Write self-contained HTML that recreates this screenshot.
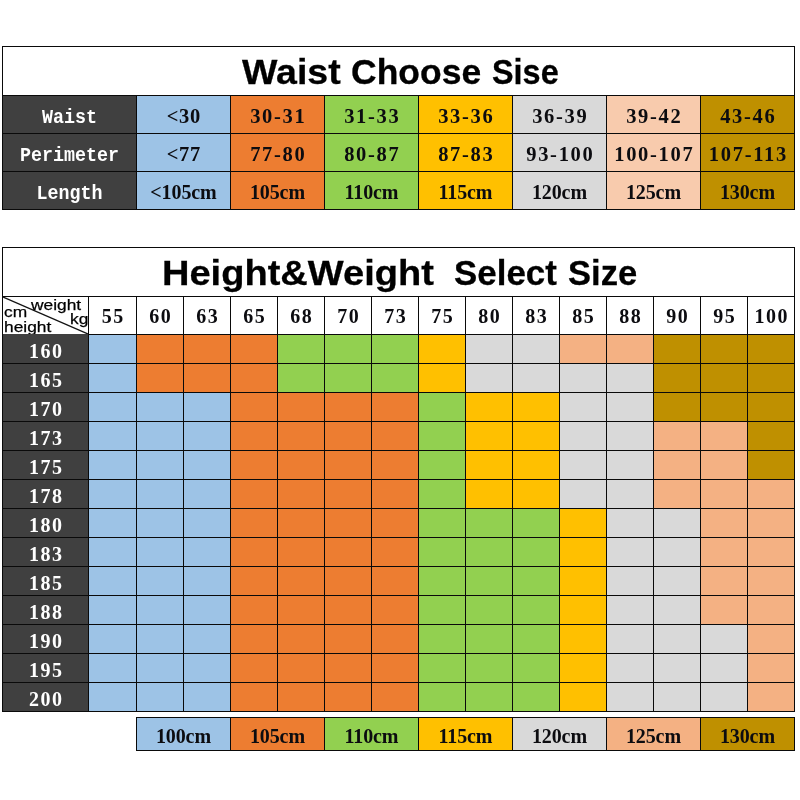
<!DOCTYPE html>
<html><head><meta charset="utf-8"><title>Size chart</title>
<style>
html,body{margin:0;padding:0;background:#fff}
body{width:800px;height:800px;position:relative;overflow:hidden;font-family:"Liberation Serif",serif}
.r{position:absolute}
.t{position:absolute;text-align:center;white-space:nowrap;font-family:"Liberation Serif",serif;font-weight:bold;color:#0c0c10;font-size:20.5px;letter-spacing:0.75px;text-indent:0.75px}
.t2{font-size:20px;letter-spacing:1.4px;text-indent:1.4px}
.w{color:#fff}
.lab{font-family:"Liberation Mono",monospace;font-size:18.33px;letter-spacing:0;text-indent:0;transform:scaleY(1.08)}
.hy{letter-spacing:1.7px;text-indent:1.7px}
.u{font-size:20px;letter-spacing:-0.1px;text-indent:-0.1px}
.title{position:absolute;left:0;top:0;font-family:"Liberation Sans",sans-serif;font-weight:bold;font-size:36.5px;color:#000;white-space:nowrap;-webkit-text-stroke:0.3px #000}
.wd{position:absolute;display:block;line-height:60px;height:60px;transform-origin:0 0}
.a{position:absolute;font-family:"Liberation Sans",sans-serif;font-size:15.5px;line-height:16px;color:#000;-webkit-text-stroke:0.25px #000;transform:scaleX(1.12);transform-origin:0 0;white-space:nowrap}
</style></head><body>
<div class="r" style="left:2px;top:46px;width:793px;height:50px;background:#fff"></div>
<div class="r" style="left:2px;top:95px;width:135px;height:115px;background:#404040"></div>
<div class="r" style="left:136px;top:95px;width:94px;height:115px;background:#9dc3e6"></div>
<div class="r" style="left:230px;top:95px;width:94px;height:115px;background:#ed7d31"></div>
<div class="r" style="left:324px;top:95px;width:94px;height:115px;background:#92d050"></div>
<div class="r" style="left:418px;top:95px;width:94px;height:115px;background:#ffc000"></div>
<div class="r" style="left:512px;top:95px;width:94px;height:115px;background:#d9d9d9"></div>
<div class="r" style="left:606px;top:95px;width:94px;height:115px;background:#f8cbad"></div>
<div class="r" style="left:700px;top:95px;width:94px;height:115px;background:#bf9000"></div>
<div class="r" style="left:2px;top:46px;width:793px;height:1px;background:#0a0a0a"></div>
<div class="r" style="left:2px;top:95px;width:793px;height:1px;background:#0a0a0a"></div>
<div class="r" style="left:2px;top:133px;width:793px;height:1px;background:#0a0a0a"></div>
<div class="r" style="left:2px;top:171px;width:793px;height:1px;background:#0a0a0a"></div>
<div class="r" style="left:2px;top:209px;width:793px;height:1px;background:#0a0a0a"></div>
<div class="r" style="left:2px;top:46px;width:1px;height:164px;background:#0a0a0a"></div>
<div class="r" style="left:794px;top:46px;width:1px;height:164px;background:#0a0a0a"></div>
<div class="r" style="left:136px;top:95px;width:1px;height:115px;background:#0a0a0a"></div>
<div class="r" style="left:230px;top:95px;width:1px;height:115px;background:#0a0a0a"></div>
<div class="r" style="left:324px;top:95px;width:1px;height:115px;background:#0a0a0a"></div>
<div class="r" style="left:418px;top:95px;width:1px;height:115px;background:#0a0a0a"></div>
<div class="r" style="left:512px;top:95px;width:1px;height:115px;background:#0a0a0a"></div>
<div class="r" style="left:606px;top:95px;width:1px;height:115px;background:#0a0a0a"></div>
<div class="r" style="left:700px;top:95px;width:1px;height:115px;background:#0a0a0a"></div>
<div class="t w lab" style="left:3px;top:99.8px;width:133px;height:37px;line-height:37px">Waist</div>
<div class="t t1" style="left:137px;top:97.7px;width:93px;height:37px;line-height:37px">&lt;30</div>
<div class="t t1 hy" style="left:231px;top:97.7px;width:93px;height:37px;line-height:37px">30-31</div>
<div class="t t1 hy" style="left:325px;top:97.7px;width:93px;height:37px;line-height:37px">31-33</div>
<div class="t t1 hy" style="left:419px;top:97.7px;width:93px;height:37px;line-height:37px">33-36</div>
<div class="t t1 hy" style="left:513px;top:97.7px;width:93px;height:37px;line-height:37px">36-39</div>
<div class="t t1 hy" style="left:607px;top:97.7px;width:93px;height:37px;line-height:37px">39-42</div>
<div class="t t1 hy" style="left:701px;top:97.7px;width:93px;height:37px;line-height:37px">43-46</div>
<div class="t w lab" style="left:3px;top:137.8px;width:133px;height:37px;line-height:37px">Perimeter</div>
<div class="t t1" style="left:137px;top:135.7px;width:93px;height:37px;line-height:37px">&lt;77</div>
<div class="t t1 hy" style="left:231px;top:135.7px;width:93px;height:37px;line-height:37px">77-80</div>
<div class="t t1 hy" style="left:325px;top:135.7px;width:93px;height:37px;line-height:37px">80-87</div>
<div class="t t1 hy" style="left:419px;top:135.7px;width:93px;height:37px;line-height:37px">87-83</div>
<div class="t t1 hy" style="left:513px;top:135.7px;width:93px;height:37px;line-height:37px">93-100</div>
<div class="t t1 hy" style="left:607px;top:135.7px;width:93px;height:37px;line-height:37px">100-107</div>
<div class="t t1 hy" style="left:701px;top:135.7px;width:93px;height:37px;line-height:37px">107-113</div>
<div class="t w lab" style="left:3px;top:175.8px;width:133px;height:37px;line-height:37px">Length</div>
<div class="t t1 u" style="left:137px;top:173.7px;width:93px;height:37px;line-height:37px">&lt;105cm</div>
<div class="t t1 u" style="left:231px;top:173.7px;width:93px;height:37px;line-height:37px">105cm</div>
<div class="t t1 u" style="left:325px;top:173.7px;width:93px;height:37px;line-height:37px">110cm</div>
<div class="t t1 u" style="left:419px;top:173.7px;width:93px;height:37px;line-height:37px">115cm</div>
<div class="t t1 u" style="left:513px;top:173.7px;width:93px;height:37px;line-height:37px">120cm</div>
<div class="t t1 u" style="left:607px;top:173.7px;width:93px;height:37px;line-height:37px">125cm</div>
<div class="t t1 u" style="left:701px;top:173.7px;width:93px;height:37px;line-height:37px">130cm</div>
<div class="title"><span class="wd" style="left:241.70px;top:43.05px;transform:scale(1.028,0.970)">Waist</span> <span class="wd" style="left:351.25px;top:43.05px;transform:scale(0.973,0.970)">Choose</span> <span class="wd" style="left:491.51px;top:43.05px;transform:scale(0.888,0.970)">Sise</span></div>
<div class="r" style="left:2px;top:247px;width:793px;height:88px;background:#fff"></div>
<div class="r" style="left:2px;top:334px;width:87px;height:378px;background:#404040"></div>
<div class="r" style="left:88px;top:334px;width:48px;height:29px;background:#9dc3e6"></div>
<div class="r" style="left:136px;top:334px;width:141px;height:29px;background:#ed7d31"></div>
<div class="r" style="left:277px;top:334px;width:141px;height:29px;background:#92d050"></div>
<div class="r" style="left:418px;top:334px;width:47px;height:29px;background:#ffc000"></div>
<div class="r" style="left:465px;top:334px;width:94px;height:29px;background:#d9d9d9"></div>
<div class="r" style="left:559px;top:334px;width:94px;height:29px;background:#f4b183"></div>
<div class="r" style="left:653px;top:334px;width:141px;height:29px;background:#bf9000"></div>
<div class="r" style="left:88px;top:363px;width:48px;height:29px;background:#9dc3e6"></div>
<div class="r" style="left:136px;top:363px;width:141px;height:29px;background:#ed7d31"></div>
<div class="r" style="left:277px;top:363px;width:141px;height:29px;background:#92d050"></div>
<div class="r" style="left:418px;top:363px;width:47px;height:29px;background:#ffc000"></div>
<div class="r" style="left:465px;top:363px;width:188px;height:29px;background:#d9d9d9"></div>
<div class="r" style="left:653px;top:363px;width:141px;height:29px;background:#bf9000"></div>
<div class="r" style="left:88px;top:392px;width:142px;height:29px;background:#9dc3e6"></div>
<div class="r" style="left:230px;top:392px;width:188px;height:29px;background:#ed7d31"></div>
<div class="r" style="left:418px;top:392px;width:47px;height:29px;background:#92d050"></div>
<div class="r" style="left:465px;top:392px;width:94px;height:29px;background:#ffc000"></div>
<div class="r" style="left:559px;top:392px;width:94px;height:29px;background:#d9d9d9"></div>
<div class="r" style="left:653px;top:392px;width:141px;height:29px;background:#bf9000"></div>
<div class="r" style="left:88px;top:421px;width:142px;height:29px;background:#9dc3e6"></div>
<div class="r" style="left:230px;top:421px;width:188px;height:29px;background:#ed7d31"></div>
<div class="r" style="left:418px;top:421px;width:47px;height:29px;background:#92d050"></div>
<div class="r" style="left:465px;top:421px;width:94px;height:29px;background:#ffc000"></div>
<div class="r" style="left:559px;top:421px;width:94px;height:29px;background:#d9d9d9"></div>
<div class="r" style="left:653px;top:421px;width:94px;height:29px;background:#f4b183"></div>
<div class="r" style="left:747px;top:421px;width:47px;height:29px;background:#bf9000"></div>
<div class="r" style="left:88px;top:450px;width:142px;height:29px;background:#9dc3e6"></div>
<div class="r" style="left:230px;top:450px;width:188px;height:29px;background:#ed7d31"></div>
<div class="r" style="left:418px;top:450px;width:47px;height:29px;background:#92d050"></div>
<div class="r" style="left:465px;top:450px;width:94px;height:29px;background:#ffc000"></div>
<div class="r" style="left:559px;top:450px;width:94px;height:29px;background:#d9d9d9"></div>
<div class="r" style="left:653px;top:450px;width:94px;height:29px;background:#f4b183"></div>
<div class="r" style="left:747px;top:450px;width:47px;height:29px;background:#bf9000"></div>
<div class="r" style="left:88px;top:479px;width:142px;height:29px;background:#9dc3e6"></div>
<div class="r" style="left:230px;top:479px;width:188px;height:29px;background:#ed7d31"></div>
<div class="r" style="left:418px;top:479px;width:47px;height:29px;background:#92d050"></div>
<div class="r" style="left:465px;top:479px;width:94px;height:29px;background:#ffc000"></div>
<div class="r" style="left:559px;top:479px;width:94px;height:29px;background:#d9d9d9"></div>
<div class="r" style="left:653px;top:479px;width:141px;height:29px;background:#f4b183"></div>
<div class="r" style="left:88px;top:508px;width:142px;height:29px;background:#9dc3e6"></div>
<div class="r" style="left:230px;top:508px;width:188px;height:29px;background:#ed7d31"></div>
<div class="r" style="left:418px;top:508px;width:141px;height:29px;background:#92d050"></div>
<div class="r" style="left:559px;top:508px;width:47px;height:29px;background:#ffc000"></div>
<div class="r" style="left:606px;top:508px;width:94px;height:29px;background:#d9d9d9"></div>
<div class="r" style="left:700px;top:508px;width:94px;height:29px;background:#f4b183"></div>
<div class="r" style="left:88px;top:537px;width:142px;height:29px;background:#9dc3e6"></div>
<div class="r" style="left:230px;top:537px;width:188px;height:29px;background:#ed7d31"></div>
<div class="r" style="left:418px;top:537px;width:141px;height:29px;background:#92d050"></div>
<div class="r" style="left:559px;top:537px;width:47px;height:29px;background:#ffc000"></div>
<div class="r" style="left:606px;top:537px;width:94px;height:29px;background:#d9d9d9"></div>
<div class="r" style="left:700px;top:537px;width:94px;height:29px;background:#f4b183"></div>
<div class="r" style="left:88px;top:566px;width:142px;height:29px;background:#9dc3e6"></div>
<div class="r" style="left:230px;top:566px;width:188px;height:29px;background:#ed7d31"></div>
<div class="r" style="left:418px;top:566px;width:141px;height:29px;background:#92d050"></div>
<div class="r" style="left:559px;top:566px;width:47px;height:29px;background:#ffc000"></div>
<div class="r" style="left:606px;top:566px;width:94px;height:29px;background:#d9d9d9"></div>
<div class="r" style="left:700px;top:566px;width:94px;height:29px;background:#f4b183"></div>
<div class="r" style="left:88px;top:595px;width:142px;height:29px;background:#9dc3e6"></div>
<div class="r" style="left:230px;top:595px;width:188px;height:29px;background:#ed7d31"></div>
<div class="r" style="left:418px;top:595px;width:141px;height:29px;background:#92d050"></div>
<div class="r" style="left:559px;top:595px;width:47px;height:29px;background:#ffc000"></div>
<div class="r" style="left:606px;top:595px;width:94px;height:29px;background:#d9d9d9"></div>
<div class="r" style="left:700px;top:595px;width:94px;height:29px;background:#f4b183"></div>
<div class="r" style="left:88px;top:624px;width:142px;height:29px;background:#9dc3e6"></div>
<div class="r" style="left:230px;top:624px;width:188px;height:29px;background:#ed7d31"></div>
<div class="r" style="left:418px;top:624px;width:141px;height:29px;background:#92d050"></div>
<div class="r" style="left:559px;top:624px;width:47px;height:29px;background:#ffc000"></div>
<div class="r" style="left:606px;top:624px;width:141px;height:29px;background:#d9d9d9"></div>
<div class="r" style="left:747px;top:624px;width:47px;height:29px;background:#f4b183"></div>
<div class="r" style="left:88px;top:653px;width:142px;height:29px;background:#9dc3e6"></div>
<div class="r" style="left:230px;top:653px;width:188px;height:29px;background:#ed7d31"></div>
<div class="r" style="left:418px;top:653px;width:141px;height:29px;background:#92d050"></div>
<div class="r" style="left:559px;top:653px;width:47px;height:29px;background:#ffc000"></div>
<div class="r" style="left:606px;top:653px;width:141px;height:29px;background:#d9d9d9"></div>
<div class="r" style="left:747px;top:653px;width:47px;height:29px;background:#f4b183"></div>
<div class="r" style="left:88px;top:682px;width:142px;height:29px;background:#9dc3e6"></div>
<div class="r" style="left:230px;top:682px;width:188px;height:29px;background:#ed7d31"></div>
<div class="r" style="left:418px;top:682px;width:141px;height:29px;background:#92d050"></div>
<div class="r" style="left:559px;top:682px;width:47px;height:29px;background:#ffc000"></div>
<div class="r" style="left:606px;top:682px;width:141px;height:29px;background:#d9d9d9"></div>
<div class="r" style="left:747px;top:682px;width:47px;height:29px;background:#f4b183"></div>
<div class="r" style="left:2px;top:247px;width:793px;height:1px;background:#0a0a0a"></div>
<div class="r" style="left:2px;top:296px;width:793px;height:1px;background:#0a0a0a"></div>
<div class="r" style="left:2px;top:334px;width:793px;height:1px;background:#0a0a0a"></div>
<div class="r" style="left:2px;top:363px;width:793px;height:1px;background:#0a0a0a"></div>
<div class="r" style="left:2px;top:392px;width:793px;height:1px;background:#0a0a0a"></div>
<div class="r" style="left:2px;top:421px;width:793px;height:1px;background:#0a0a0a"></div>
<div class="r" style="left:2px;top:450px;width:793px;height:1px;background:#0a0a0a"></div>
<div class="r" style="left:2px;top:479px;width:793px;height:1px;background:#0a0a0a"></div>
<div class="r" style="left:2px;top:508px;width:793px;height:1px;background:#0a0a0a"></div>
<div class="r" style="left:2px;top:537px;width:793px;height:1px;background:#0a0a0a"></div>
<div class="r" style="left:2px;top:566px;width:793px;height:1px;background:#0a0a0a"></div>
<div class="r" style="left:2px;top:595px;width:793px;height:1px;background:#0a0a0a"></div>
<div class="r" style="left:2px;top:624px;width:793px;height:1px;background:#0a0a0a"></div>
<div class="r" style="left:2px;top:653px;width:793px;height:1px;background:#0a0a0a"></div>
<div class="r" style="left:2px;top:682px;width:793px;height:1px;background:#0a0a0a"></div>
<div class="r" style="left:2px;top:711px;width:793px;height:1px;background:#0a0a0a"></div>
<div class="r" style="left:2px;top:247px;width:1px;height:465px;background:#0a0a0a"></div>
<div class="r" style="left:794px;top:247px;width:1px;height:465px;background:#0a0a0a"></div>
<div class="r" style="left:88px;top:296px;width:1px;height:416px;background:#0a0a0a"></div>
<div class="r" style="left:136px;top:296px;width:1px;height:416px;background:#0a0a0a"></div>
<div class="r" style="left:183px;top:296px;width:1px;height:416px;background:#0a0a0a"></div>
<div class="r" style="left:230px;top:296px;width:1px;height:416px;background:#0a0a0a"></div>
<div class="r" style="left:277px;top:296px;width:1px;height:416px;background:#0a0a0a"></div>
<div class="r" style="left:324px;top:296px;width:1px;height:416px;background:#0a0a0a"></div>
<div class="r" style="left:371px;top:296px;width:1px;height:416px;background:#0a0a0a"></div>
<div class="r" style="left:418px;top:296px;width:1px;height:416px;background:#0a0a0a"></div>
<div class="r" style="left:465px;top:296px;width:1px;height:416px;background:#0a0a0a"></div>
<div class="r" style="left:512px;top:296px;width:1px;height:416px;background:#0a0a0a"></div>
<div class="r" style="left:559px;top:296px;width:1px;height:416px;background:#0a0a0a"></div>
<div class="r" style="left:606px;top:296px;width:1px;height:416px;background:#0a0a0a"></div>
<div class="r" style="left:653px;top:296px;width:1px;height:416px;background:#0a0a0a"></div>
<div class="r" style="left:700px;top:296px;width:1px;height:416px;background:#0a0a0a"></div>
<div class="r" style="left:747px;top:296px;width:1px;height:416px;background:#0a0a0a"></div>
<svg class="r" style="left:3px;top:297px" width="85" height="37" viewBox="0 0 85 37"><line x1="0" y1="0" x2="85" y2="37" stroke="#141414" stroke-width="1.3"/></svg>
<div class="a" style="left:30.5px;top:296.8px;">weight</div>
<div class="a" style="left:69.5px;top:311.4px;">kg</div>
<div class="a" style="left:3.5px;top:304px;">cm</div>
<div class="a" style="left:3.5px;top:318.5px;">height</div>
<div class="r" style="left:3px;top:334px;width:85px;height:3px;background:#404040"></div>
<div class="t t2" style="left:89px;top:298px;width:47px;height:37px;line-height:37px">55</div>
<div class="t t2" style="left:137px;top:298px;width:46px;height:37px;line-height:37px">60</div>
<div class="t t2" style="left:184px;top:298px;width:46px;height:37px;line-height:37px">63</div>
<div class="t t2" style="left:231px;top:298px;width:46px;height:37px;line-height:37px">65</div>
<div class="t t2" style="left:278px;top:298px;width:46px;height:37px;line-height:37px">68</div>
<div class="t t2" style="left:325px;top:298px;width:46px;height:37px;line-height:37px">70</div>
<div class="t t2" style="left:372px;top:298px;width:46px;height:37px;line-height:37px">73</div>
<div class="t t2" style="left:419px;top:298px;width:46px;height:37px;line-height:37px">75</div>
<div class="t t2" style="left:466px;top:298px;width:46px;height:37px;line-height:37px">80</div>
<div class="t t2" style="left:513px;top:298px;width:46px;height:37px;line-height:37px">83</div>
<div class="t t2" style="left:560px;top:298px;width:46px;height:37px;line-height:37px">85</div>
<div class="t t2" style="left:607px;top:298px;width:46px;height:37px;line-height:37px">88</div>
<div class="t t2" style="left:654px;top:298px;width:46px;height:37px;line-height:37px">90</div>
<div class="t t2" style="left:701px;top:298px;width:46px;height:37px;line-height:37px">95</div>
<div class="t t2" style="left:748px;top:298px;width:46px;height:37px;line-height:37px">100</div>
<div class="t w t2" style="left:3px;top:337px;width:85px;height:28px;line-height:28px">160</div>
<div class="t w t2" style="left:3px;top:366px;width:85px;height:28px;line-height:28px">165</div>
<div class="t w t2" style="left:3px;top:395px;width:85px;height:28px;line-height:28px">170</div>
<div class="t w t2" style="left:3px;top:424px;width:85px;height:28px;line-height:28px">173</div>
<div class="t w t2" style="left:3px;top:453px;width:85px;height:28px;line-height:28px">175</div>
<div class="t w t2" style="left:3px;top:482px;width:85px;height:28px;line-height:28px">178</div>
<div class="t w t2" style="left:3px;top:511px;width:85px;height:28px;line-height:28px">180</div>
<div class="t w t2" style="left:3px;top:540px;width:85px;height:28px;line-height:28px">183</div>
<div class="t w t2" style="left:3px;top:569px;width:85px;height:28px;line-height:28px">185</div>
<div class="t w t2" style="left:3px;top:598px;width:85px;height:28px;line-height:28px">188</div>
<div class="t w t2" style="left:3px;top:627px;width:85px;height:28px;line-height:28px">190</div>
<div class="t w t2" style="left:3px;top:656px;width:85px;height:28px;line-height:28px">195</div>
<div class="t w t2" style="left:3px;top:685px;width:85px;height:28px;line-height:28px">200</div>
<div class="title"><span class="wd" style="left:161.92px;top:244.95px;transform:scale(1.042,0.950)">Height&amp;Weight</span> <span class="wd" style="left:453.74px;top:244.95px;transform:scale(0.956,0.950)">Select</span> <span class="wd" style="left:567.80px;top:244.95px;transform:scale(0.947,0.950)">Size</span></div>
<div class="r" style="left:136px;top:717px;width:94px;height:34px;background:#9dc3e6"></div>
<div class="r" style="left:230px;top:717px;width:94px;height:34px;background:#ed7d31"></div>
<div class="r" style="left:324px;top:717px;width:94px;height:34px;background:#92d050"></div>
<div class="r" style="left:418px;top:717px;width:94px;height:34px;background:#ffc000"></div>
<div class="r" style="left:512px;top:717px;width:94px;height:34px;background:#d9d9d9"></div>
<div class="r" style="left:606px;top:717px;width:94px;height:34px;background:#f4b183"></div>
<div class="r" style="left:700px;top:717px;width:94px;height:34px;background:#bf9000"></div>
<div class="r" style="left:136px;top:717px;width:659px;height:1px;background:#0a0a0a"></div>
<div class="r" style="left:136px;top:750px;width:659px;height:1px;background:#0a0a0a"></div>
<div class="r" style="left:136px;top:717px;width:1px;height:34px;background:#0a0a0a"></div>
<div class="r" style="left:230px;top:717px;width:1px;height:34px;background:#0a0a0a"></div>
<div class="r" style="left:324px;top:717px;width:1px;height:34px;background:#0a0a0a"></div>
<div class="r" style="left:418px;top:717px;width:1px;height:34px;background:#0a0a0a"></div>
<div class="r" style="left:512px;top:717px;width:1px;height:34px;background:#0a0a0a"></div>
<div class="r" style="left:606px;top:717px;width:1px;height:34px;background:#0a0a0a"></div>
<div class="r" style="left:700px;top:717px;width:1px;height:34px;background:#0a0a0a"></div>
<div class="r" style="left:794px;top:717px;width:1px;height:34px;background:#0a0a0a"></div>
<div class="t t1 u" style="left:137px;top:721px;width:93px;height:31px;line-height:31px">100cm</div>
<div class="t t1 u" style="left:231px;top:721px;width:93px;height:31px;line-height:31px">105cm</div>
<div class="t t1 u" style="left:325px;top:721px;width:93px;height:31px;line-height:31px">110cm</div>
<div class="t t1 u" style="left:419px;top:721px;width:93px;height:31px;line-height:31px">115cm</div>
<div class="t t1 u" style="left:513px;top:721px;width:93px;height:31px;line-height:31px">120cm</div>
<div class="t t1 u" style="left:607px;top:721px;width:93px;height:31px;line-height:31px">125cm</div>
<div class="t t1 u" style="left:701px;top:721px;width:93px;height:31px;line-height:31px">130cm</div>
</body></html>
